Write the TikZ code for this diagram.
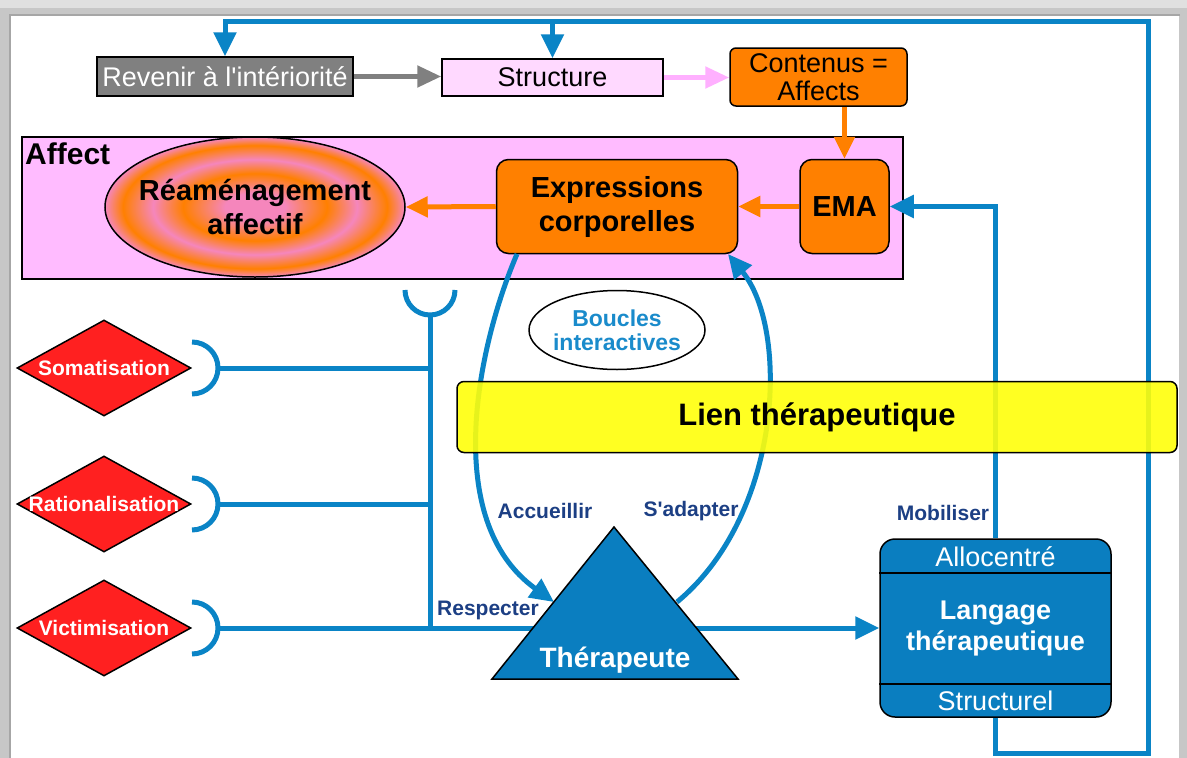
\documentclass[tikz,border=0pt]{standalone}
\usepackage{fontspec}
\setmainfont{Liberation Sans}[Ligatures=TeXOff]
\usetikzlibrary{arrows.meta,shapes.geometric,calc}
\definecolor{lblue}{HTML}{0A84C6}
\definecolor{tblue}{HTML}{0A7EC0}
\definecolor{dblue}{HTML}{1C3F84}
\definecolor{bblue}{HTML}{1A8BCB}
\definecolor{affpink}{HTML}{FFBBFF}
\definecolor{strpink}{HTML}{FFD9FF}
\definecolor{arrpink}{HTML}{FFB0FF}
\definecolor{orng}{HTML}{FF8000}
\definecolor{rpink}{HTML}{F586BC}
\definecolor{dred}{HTML}{FF2020}
\definecolor{yel}{HTML}{FFFF0A}
\definecolor{gbox}{HTML}{808080}
\pgfdeclareradialshading{rings}{\pgfpoint{0bp}{0bp}}{%
color(0bp)=(rpink); color(5bp)=(rpink); color(12bp)=(orng); color(17bp)=(rpink); color(22bp)=(orng); color(25bp)=(rpink); color(50bp)=(rpink)}
\newcommand{\fs}[1]{\fontsize{#1pt}{#1pt}\selectfont}
\tikzset{
  boxnode/.style={draw=black, line width=1.5pt, inner sep=0pt, align=center},
  bl/.style={line width=5pt, draw=lblue},
  bla/.style={bl, -{Triangle[length=24pt,width=22pt]}},
  oa/.style={line width=5pt, draw=orng, -{Triangle[length=22pt,width=20pt]}},
  ga/.style={line width=5pt, draw=gbox, -{Triangle[length=24pt,width=21pt]}},
  pa/.style={line width=5pt, draw=arrpink, -{Triangle[length=24pt,width=21pt]}},
  diam/.style={diamond, draw=black, line width=1.5pt, fill=dred, minimum width=174pt, minimum height=96pt, inner sep=0pt},
  dtext/.style={text=white, font=\fs{21}\bfseries},
  lbl/.style={text=dblue, font=\fs{21}\bfseries, inner sep=0pt}
}
\begin{document}
\begin{tikzpicture}[x=1pt,y=-1pt]
\useasboundingbox (0,0) rectangle (1187,758);
% frame
\fill[black!22] (0,0) rectangle (1187,758);
\fill[black!12] (0,0) rectangle (1187,8);
\fill[white] (11,16) rectangle (1179,758);
\draw[black!35, line width=2pt] (10,758) -- (10,15) -- (1180,15);

% Affect container
\node[boxnode, fill=affpink, minimum width=881pt, minimum height=142pt] (aff) at (462.5,208) {};
\node[anchor=north west, inner sep=0pt, font=\fs{30}\bfseries] (afflbl) at (25,143) {Affect};

% top row
\node[boxnode, fill=gbox, text=white, font=\fs{27}, minimum width=256pt, minimum height=39pt] (rev) at (225,76.5) {Revenir à l'intériorité};
\node[boxnode, fill=strpink, font=\fs{27}, minimum width=221pt, minimum height=37pt] (str) at (552.5,77.5) {Structure};
\node[boxnode, fill=orng, rounded corners=6pt, font=\fs{27}, minimum width=177pt, minimum height=58pt] (cont) at (818.5,77) {Contenus =\\[1pt]Affects};

% affect row
\node[ellipse, draw=black, line width=1.5pt, shading=rings, minimum width=300pt, minimum height=140pt, inner sep=0pt] (ream) at (255,207) {};
\node[align=center, font=\fs{29}\bfseries, inner sep=0pt] (reamt) at (ream) {Réaménagement\\[5pt]affectif};
\node[boxnode, fill=orng, rounded corners=12pt, font=\fs{29}\bfseries, minimum width=241pt, minimum height=94pt] (expr) at (617,206.5) {Expressions\\[5pt]corporelles};
\node[boxnode, fill=orng, rounded corners=12pt, font=\fs{29}\bfseries, minimum width=89pt, minimum height=94pt] (ema) at (844.5,206.5) {EMA};

% arrows top
\draw[ga] (rev.east) -- (str.west |- rev.east);
\draw[pa] (str.east) -- (cont.west |- str.east);
\draw[oa] (ema.north |- cont.south) -- (ema.north);
\draw[oa] (ema.west) -- (expr.east);
\draw[oa] (expr.west) -- (ream.east);

% Langage box
\node[boxnode, fill=tblue, rounded corners=15pt, minimum width=231pt, minimum height=178pt] (lang) at (995.5,628) {};
\draw[black, line width=1.5pt] (lang.west |- 0,573) -- (lang.east |- 0,573);
\draw[black, line width=1.5pt] (lang.west |- 0,684) -- (lang.east |- 0,684);
\node[text=white, font=\fs{27}, inner sep=0pt] (allo) at (995.5,557) {Allocentré};
\node[text=white, font=\fs{27}\bfseries, inner sep=0pt, align=center] (langt) at (995.5,629) {Langage\\[4pt]thérapeutique};
\node[text=white, font=\fs{27}, inner sep=0pt] (struc) at (995.5,701) {Structurel};

% outer blue loop
\draw[bla] (lang.south) -- (lang.south |- 0,753) -- (1148,753) -- (1148,21) -- (rev.north |- 0,21) -- (rev.north);
\draw[bla] (str.north |- 0,21) -- (str.north);
% Mobiliser
\draw[bla] (lang.north) |- (ema.east);

% diamonds
\node[diam] (som) at (104,368) {};
\node[dtext] (somt) at (som) {Somatisation};
\node[diam] (rat) at (104,504) {};
\node[dtext] (ratt) at (rat) {Rationalisation};
\node[diam] (vic) at (104,628) {};
\node[dtext] (vict) at (vic) {Victimisation};

% sockets
\coordinate (s1) at (218,368);
\coordinate (s2) at (218,504);
\coordinate (s3) at (218,628);
\coordinate (j1) at (430,368);
\coordinate (j2) at (430,504);
\coordinate (j3) at (430,628);
\coordinate (cup) at (430,315);
\draw[bl] (192,342) arc[start angle=-90, end angle=90, radius=26];
\draw[bl] (192,478) arc[start angle=-90, end angle=90, radius=26];
\draw[bl] (192,602) arc[start angle=-90, end angle=90, radius=26];
\draw[bl] (405,290) arc[start angle=180, end angle=0, radius=25];
\draw[bl] (s1) -- (j1);
\draw[bl] (s2) -- (j2);
\draw[bl] (cup) -- (j3);
\draw[bla] (s3) -- (lang.west);

% Boucles
\node[ellipse, draw=black, line width=1.5pt, fill=white, minimum width=176pt, minimum height=79pt, inner sep=0pt] (bouc) at (617,330) {};
\node[align=center, text=bblue, font=\fs{23}\bfseries, inner sep=0pt] (bouct) at (bouc) {Boucles\\[1pt]interactives};

% triangle
\coordinate (tapex) at (614,527);
\coordinate (tbl) at (492,679);
\coordinate (tbr) at (738,679);
\coordinate (tl) at (554,602);
\coordinate (tr) at (677,602);
\coordinate (el) at (517,254);
\coordinate (er) at (728,254);
\draw[bla] (el) .. controls (478,345) and (440,520) .. (tl);
\draw[bla] (tr) .. controls (782,515) and (790,330) .. (er);
\filldraw[fill=tblue, draw=black, line width=1.5pt] (tapex) -- (tbr) -- (tbl) -- cycle;
\node[text=white, font=\fs{28}\bfseries, inner sep=0pt] (ther) at (615,660) {Thérapeute};

% Lien therapeutique
\node[boxnode, fill=yel, fill opacity=0.9, text opacity=1, rounded corners=7pt, minimum width=720pt, minimum height=71pt, font=\fs{31}\bfseries] (lien) at (817,417) {Lien thérapeutique};

% labels
\node[lbl] (acc) at (545,511) {Accueillir};
\node[lbl] (sad) at (691,511) {S'adapter};
\node[lbl] (mob) at (943,513) {Mobiliser};
\node[lbl] (res) at (488,610) {Respecter};
\end{tikzpicture}
\end{document}
